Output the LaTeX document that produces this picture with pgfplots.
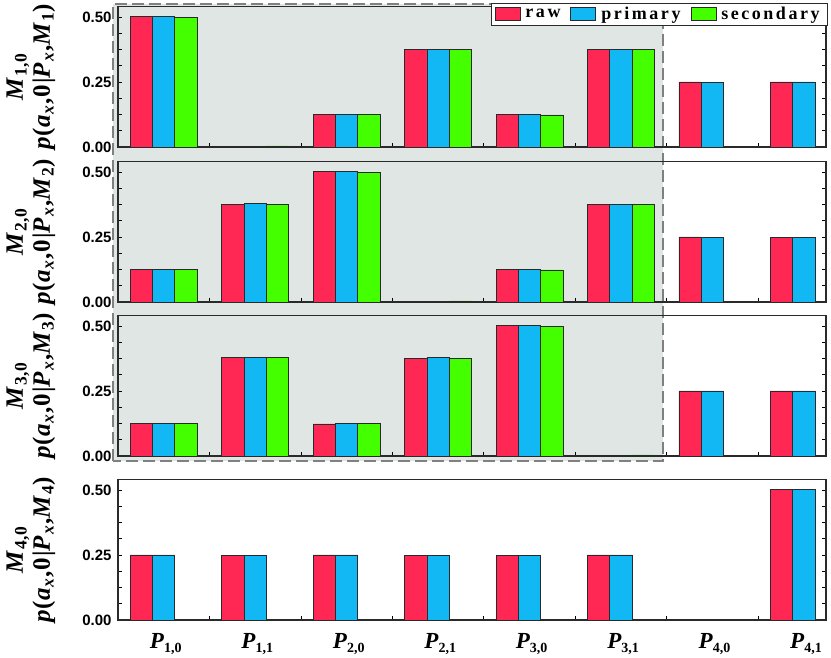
\documentclass[border=0pt]{standalone}
\usepackage{fontspec}
\setmainfont{Liberation Serif}
\setsansfont{Liberation Sans}
\newfontfamily\legfont[LetterSpace=14]{Liberation Serif}
\newfontfamily\labfont[LetterSpace=4]{Liberation Serif}
\usepackage{pgfplots}
\pgfplotsset{compat=1.18}
\definecolor{cred}{HTML}{FF2855}
\definecolor{cblue}{HTML}{12B8F4}
\definecolor{cgreen}{HTML}{44FF00}
\definecolor{bgc}{HTML}{DFE6E3}
\definecolor{frame}{HTML}{2A2A2A}

\newcommand{\ylab}[2]{\textit{M}\textsubscript{#1}\\\textit{p}(\textit{a}\textsubscript{\textit{x}},0|\textit{P}\textsubscript{\textit{x}},\textit{M}\textsubscript{#2})}
\newcommand{\Pl}[1]{\textbf{\textit{P}}\raisebox{-3.5pt}{\fontsize{14}{14}\selectfont\bfseries #1}}

\pgfplotsset{
  panel/.style={
    scale only axis, width=708pt, height=140.5pt, anchor=south west,
    xmin=-0.5, xmax=7.24, ymin=0, ymax=0.54,
    ytick={0,0.25,0.5}, minor y tick num=3,
    xtick={0.5,1.5,...,6.5}, xticklabels={},
    xtick pos=bottom, ytick pos=both,
    tick align=inside,
    major tick length=4pt, minor tick length=4pt,
    tick style={line width=0.8pt, black},
    axis line style={line width=1.1pt, frame},
    /pgf/number format/assume math mode=true,
    yticklabel style={font=\fontsize{15}{15}\selectfont\sffamily\bfseries,
      /pgf/number format/fixed, /pgf/number format/fixed zerofill,
      /pgf/number format/precision=2, xshift=-3pt},
    ylabel style={at={(axis description cs:-0.123,0.5)}, anchor=center, rotate=0,
      align=center, font=\fontsize{25}{27}\selectfont\labfont\bfseries},
  },
  mybar/.style={ybar, bar width=0.245, draw=frame, line width=0.9pt,
    legend image code/.code={\draw[##1,draw=frame,line width=0.9pt] (0pt,-6.5pt) rectangle (25pt,6.5pt);}},
}

\begin{document}
\begin{tikzpicture}[x=1pt,y=1pt]
\useasboundingbox (0,0) rectangle (831,657);
\fill[bgc] (113,196) rectangle (663,653);
\draw[black!50, line width=1.6pt, dash pattern=on 12pt off 5pt] (113,196) rectangle (663,653);

% Panel 1
\begin{axis}[panel, at={(118pt,510pt)}, ylabel={\ylab{1,0}{1}},
  legend columns=3,
  legend style={at={(1,1)}, anchor=north east, yshift=4pt, xshift=2pt, draw=frame, line width=0.9pt,
    fill=white, font=\fontsize{18}{18}\selectfont\legfont\bfseries,
    /tikz/every even column/.append style={column sep=5pt},
    inner xsep=3pt, inner ysep=1.5pt,
    nodes={inner xsep=5pt, inner ysep=3pt}}]
\addplot[mybar, fill=cred, bar shift=-0.245] coordinates {(0,0.5)(2,0.125)(3,0.375)(4,0.125)(5,0.375)(6,0.25)(7,0.25)};
\addplot[mybar, fill=cblue, bar shift=0] coordinates {(0,0.5)(2,0.125)(3,0.376)(4,0.125)(5,0.375)(6,0.249)(7,0.25)};
\addplot[mybar, fill=cgreen, bar shift=0.245] coordinates {(0,0.498)(1,0.004)(2,0.125)(3,0.375)(4,0.123)(5,0.374)};
\legend{raw,primary,secondary}
\end{axis}

% Panel 2
\begin{axis}[panel, at={(118pt,355pt)}, ylabel={\ylab{2,0}{2}}]
\addplot[mybar, fill=cred, bar shift=-0.245] coordinates {(0,0.125)(1,0.375)(2,0.5)(4,0.125)(5,0.375)(6,0.25)(7,0.247)};
\addplot[mybar, fill=cblue, bar shift=0] coordinates {(0,0.125)(1,0.377)(2,0.5)(4,0.125)(5,0.375)(6,0.249)(7,0.247)};
\addplot[mybar, fill=cgreen, bar shift=0.245] coordinates {(0,0.125)(1,0.375)(2,0.497)(3,0.004)(4,0.123)(5,0.375)};
\end{axis}

% Panel 3
\begin{axis}[panel, at={(118pt,201pt)}, ylabel={\ylab{3,0}{3}}]
\addplot[mybar, fill=cred, bar shift=-0.245] coordinates {(0,0.125)(1,0.378)(2,0.123)(3,0.375)(4,0.5)(6,0.25)(7,0.25)};
\addplot[mybar, fill=cblue, bar shift=0] coordinates {(0,0.126)(1,0.379)(2,0.125)(3,0.377)(4,0.501)(6,0.25)(7,0.25)};
\addplot[mybar, fill=cgreen, bar shift=0.245] coordinates {(0,0.124)(1,0.379)(2,0.126)(3,0.374)(4,0.498)(5,0.004)};
\end{axis}

% Panel 4
\begin{axis}[panel, at={(118pt,37pt)}, ylabel={\ylab{4,0}{4}},
  extra x ticks={0,1,2,3,4,5,6,7},
  extra x tick labels={\Pl{1,0},\Pl{1,1},\Pl{2,0},\Pl{2,1},\Pl{3,0},\Pl{3,1},\Pl{4,0},\Pl{4,1}},
  extra x tick style={major tick length=0pt, tick style={draw=none},
    xticklabel style={font=\fontsize{23}{23}\selectfont, xshift=2pt, yshift=-10pt}}]
\addplot[mybar, fill=cred, bar shift=-0.245] coordinates {(0,0.25)(1,0.248)(2,0.25)(3,0.249)(4,0.247)(5,0.25)(7,0.5)};
\addplot[mybar, fill=cblue, bar shift=0] coordinates {(0,0.25)(1,0.248)(2,0.25)(3,0.249)(4,0.247)(5,0.25)(7,0.501)};
\end{axis}
\end{tikzpicture}
\end{document}
